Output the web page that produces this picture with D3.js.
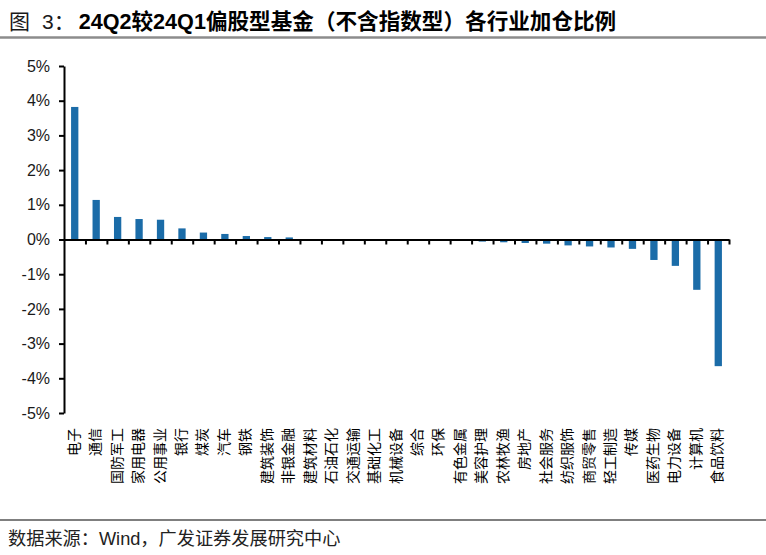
<!DOCTYPE html>
<html><head><meta charset="utf-8">
<script src="https://cdn.jsdelivr.net/npm/d3@7"></script>
<style>body{margin:0;background:#fff}svg{display:block}</style>
</head><body>
<svg id="c" width="766" height="555"></svg>
<script>
const categories = ["电子","通信","国防军工","家用电器","公用事业","银行","煤炭","汽车","钢铁","建筑装饰","非银金融","建筑材料","石油石化","交通运输","基础化工","机械设备","综合","环保","有色金属","美容护理","农林牧渔","房地产","社会服务","纺织服饰","商贸零售","轻工制造","传媒","医药生物","电力设备","计算机","食品饮料"];
const values = [3.82,1.14,0.65,0.59,0.57,0.32,0.20,0.16,0.10,0.07,0.06,0.01,0.0,0.0,0.0,0.0,0.0,-0.01,-0.04,-0.06,-0.08,-0.10,-0.12,-0.17,-0.20,-0.23,-0.27,-0.59,-0.76,-1.45,-3.65];
const yTicks = [5,4,3,2,1,0,-1,-2,-3,-4,-5];
const titleFig = "图";
const titleNum = "3：";
const titleB = "24Q2较24Q1偏股型基金（不含指数型）各行业加仓比例";
const source = "数据来源：Wind，广发证券发展研究中心";

const svg = d3.select("#c");
const pL = 64, pR = 729, pT = 66, pB = 413;
const x = d3.scaleBand().domain(categories).range([pL, pR]).paddingInner(0.66).paddingOuter(0.33);
const y = d3.scaleLinear().domain([-5,5]).range([pB, pT]);

// title
const tt = svg.append("text").attr("x",9).attr("y",29).attr("font-family","'Liberation Sans','Noto Sans CJK SC',sans-serif")
  .attr("font-size",21).attr("fill","#000");
tt.append("tspan").attr("fill","#1a1a1a").text(titleFig);
tt.append("tspan").attr("dx",12).attr("fill","#1a1a1a").text(titleNum);
tt.append("tspan").attr("dx",4).attr("font-weight","bold").attr("font-size",21.6).text(titleB);
svg.append("line").attr("x1",0).attr("x2",766).attr("y1",37.5).attr("y2",37.5).attr("stroke","#8c8c8c").attr("stroke-width",2.5);

// bars
svg.append("g").selectAll("rect").data(values).join("rect")
  .attr("x",(d,i)=>x(categories[i]))
  .attr("width",x.bandwidth())
  .attr("y",d=>y(Math.max(0,d)))
  .attr("height",d=>Math.abs(y(d)-y(0)))
  .attr("fill","#1b6ca8");

// y axis
const ya = d3.axisLeft(y).tickValues(yTicks).tickFormat(d=>d+"%").tickSize(5).tickSizeOuter(0);
const yg = svg.append("g").attr("transform",`translate(${pL},0)`).call(ya);
yg.select(".domain").attr("stroke","#000").attr("stroke-width",2);
yg.selectAll(".tick line").attr("stroke","#000").attr("stroke-width",2);
yg.selectAll(".tick text").attr("font-family","'Liberation Sans',Arial,sans-serif").attr("font-size",16).attr("fill","#1a1a1a").attr("x",-14);

// x axis at zero with boundary ticks
const xb = d3.scaleLinear().domain([0,categories.length]).range([pL,pR]);
const xg = svg.append("g").attr("transform",`translate(0,${y(0)})`)
  .call(d3.axisBottom(xb).tickValues(d3.range(1,categories.length+1)).tickSize(5).tickSizeOuter(0).tickFormat(""));
xg.select(".domain").attr("stroke","#000").attr("stroke-width",2);
xg.selectAll(".tick line").attr("stroke","#000").attr("stroke-width",2);

// category labels, rotated -90, anchored at top
const lab = svg.append("g").attr("font-family","'Noto Sans CJK SC',sans-serif").attr("font-size",14).attr("fill","#000");
categories.forEach((c,i)=>{
  const cx = x(c)+x.bandwidth()/2 - 2;
  lab.append("text").attr("text-anchor","end").attr("dominant-baseline","central")
    .attr("transform",`translate(${cx},428) rotate(-90)`).text(c);
});

// source
svg.append("line").attr("x1",0).attr("x2",766).attr("y1",520).attr("y2",520).attr("stroke","#555").attr("stroke-width",1.5);
svg.append("text").attr("x",8).attr("y",545).attr("font-family","'Liberation Sans','Noto Sans CJK SC',sans-serif")
  .attr("font-size",18.2).attr("fill","#222").text(source);
</script>
</body></html>
